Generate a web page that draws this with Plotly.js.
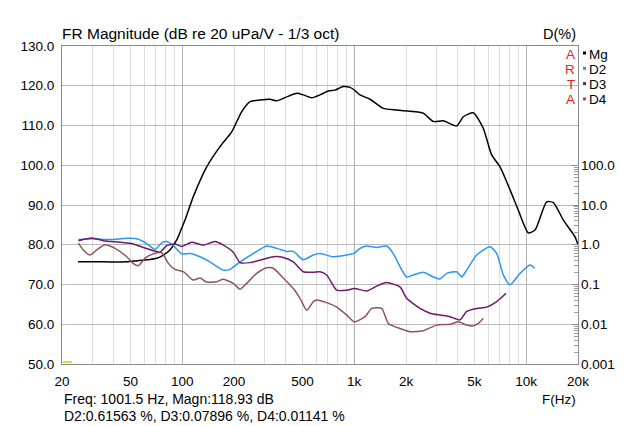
<!DOCTYPE html>
<html>
<head>
<meta charset="utf-8">
<script src="https://cdn.plot.ly/plotly-3.0.1.min.js"></script>
<style>
html,body{margin:0;padding:0;background:#fff;}
#chart{width:640px;height:426px;}
</style>
</head>
<body>
<div id="chart"></div>
<script>
// ---- Data ----
var magFreq = [24.8,35,47.6,55,65,71.1,77.6,84.9,92.9,99.3,103.8,116,138.8,165.8,194,221.9,247.9,283.3,323.9,354.2,404.9,463.2,505.9,566,632.5,706.6,773,863.5,944,1001.5,1080,1236,1477,1767,2205,2519,2883,3297,3944,4308,4923,5625,6296,7043,8055,8995,10286,11250,13150,14380,16440,19210,20000];
var magDb   = [75.7,75.7,75.7,76.0,76.3,76.6,77.4,78.7,81.2,84.2,86.2,92.1,99.6,104.7,108.4,113.5,116.0,116.4,116.6,116.2,117.2,118.1,117.7,117.0,117.7,118.7,118.9,119.8,119.6,118.93,117.7,116.6,114.3,113.9,113.5,113.1,111.0,111.2,109.9,112.2,113.2,109.3,102.6,99.6,93.8,88.7,83.0,83.7,90.8,90.6,86.2,82.0,80.0];

var d2Freq = [24.9,30.4,38,47.6,54.4,62.2,69.5,76,81.2,88.8,99.3,111,126.9,145,173.3,189.6,216.8,259.1,309.9,354.2,405.1,442.5,505.9,578.1,632.5,755.8,904.4,1001.5,1080,1182,1351,1545,1688,1846,2019,2205,2522,2883,3154,3449,3944,4215,4507,5152,6159,6737,7358,8047,9204,10523,11247];
var d2Pct  = [1.35,1.41,1.35,1.45,1.41,1.07,0.76,1.12,1.20,0.95,0.59,0.60,0.50,0.37,0.23,0.24,0.37,0.60,0.93,0.81,0.68,0.68,0.42,0.55,0.60,0.50,0.55,0.6156,0.81,0.93,0.85,0.93,0.60,0.28,0.155,0.174,0.204,0.155,0.138,0.19,0.209,0.155,0.23,0.55,0.89,0.60,0.174,0.098,0.19,0.31,0.257];

var d3Freq = [24.9,29.8,34.8,43.5,51.9,59.4,67.9,74.3,81.2,90.8,99.3,113.6,132.6,155.1,173.3,198.1,216.8,247.9,296.1,338.6,387.1,442.5,505.9,578.1,632.5,691.7,791,904.4,1001.5,1182,1351,1545,1846,2019,2413,2758,3154,3606,4120,4507,5152,5892,6737,7629];
var d3Pct  = [1.26,1.48,1.26,1.15,1.05,0.85,0.71,0.65,0.95,1.05,0.91,1.15,0.98,1.20,0.98,0.65,0.355,0.355,0.43,0.50,0.48,0.37,0.21,0.204,0.21,0.174,0.072,0.072,0.079,0.069,0.091,0.112,0.087,0.045,0.025,0.019,0.017,0.0155,0.0129,0.021,0.025,0.027,0.037,0.060];

var d4Freq = [24.9,26.6,29.1,31.8,35.6,40.7,47.6,51.9,55.5,60.8,67.9,76,83,90.8,101.5,116,126.9,138.8,158.7,173.3,198.1,216.8,237.1,271.2,309.9,338.6,387.1,442.5,484,529.5,578.1,605.1,691.7,791,904.4,1001.5,1155,1264,1445,1578,1846,2110,2522,3018,3606,4029,4507,4923,5264,5627];
var d4Pct  = [1.10,0.74,0.55,0.74,1.0,0.81,0.50,0.34,0.295,0.46,0.59,0.63,0.34,0.24,0.21,0.129,0.145,0.115,0.117,0.135,0.107,0.076,0.107,0.19,0.263,0.257,0.145,0.079,0.045,0.0224,0.037,0.041,0.035,0.027,0.017,0.0114,0.0155,0.025,0.025,0.0105,0.0078,0.0065,0.0069,0.0095,0.010,0.0115,0.0095,0.0091,0.0105,0.0141];

var xTickVals = [20,50,100,200,500,1000,2000,5000,10000,20000];
var xTickText = ['20','50','100','200','500','1k','2k','5k','10k','20k'];
var dTickVals = [0.001,0.01,0.1,1,10,100];
var dTickText = ['0.001','0.01','0.1','1.0','10.0','100.0'];
var seriesNames = ['Mg','D2','D3','D4'];
var cursorFreq = 1001.5;
var cursorText1 = 'Freq: 1001.5 Hz, Magn:118.93 dB';
var cursorText2 = 'D2:0.61563 %, D3:0.07896 %, D4:0.01141 %';

// ---- Styling ----
var colors = ['#000000','#2b96f2','#6a1b6a','#8e5555'];
var FONT = 'Arial, "Liberation Sans", sans-serif';

var minorX = [];
[10,100,1000,10000].forEach(function(d){ for (var k=2;k<=9;k++){ var v=k*d; if(v>20 && v<20000) minorX.push(v);} });
var minorD = [];
[0.001,0.01,0.1,1,10].forEach(function(d){ for (var k=2;k<=9;k++) minorD.push(k*d); });

var traces = [
  {x: magFreq, y: magDb, xaxis:'x', yaxis:'y', mode:'lines', line:{color:colors[0], width:1.5, shape:'spline', smoothing:0.6}, name:seriesNames[0]},
  {x: d2Freq, y: d2Pct, xaxis:'x2', yaxis:'y2', mode:'lines', line:{color:colors[1], width:1.5, shape:'spline', smoothing:0.6}, name:seriesNames[1]},
  {x: d3Freq, y: d3Pct, xaxis:'x2', yaxis:'y2', mode:'lines', line:{color:colors[2], width:1.5, shape:'spline', smoothing:0.6}, name:seriesNames[2]},
  {x: d4Freq, y: d4Pct, xaxis:'x2', yaxis:'y2', mode:'lines', line:{color:colors[3], width:1.5, shape:'spline', smoothing:0.6}, name:seriesNames[3]}
];

var xr = [Math.log10(20), Math.log10(20000)];

var annotations = [];
var shapes = [];
seriesNames.forEach(function(n,i){
  var yy = 1 - (8 + i*15.3)/318;
  annotations.push({xref:'paper', yref:'paper', x:1, y:yy, xanchor:'left', yanchor:'middle', xshift:9, text:n, showarrow:false, font:{family:FONT, size:13.5, color:'#000'}});
  shapes.push({type:'rect', xref:'paper', yref:'paper', x0:1+5/516, x1:1+8/516, y0:yy+(1-1.5)/318, y1:yy+(1+1.5)/318, fillcolor:colors[i], line:{width:0}});
});
['A','R','T','A'].forEach(function(c,i){
  annotations.push({xref:'paper', yref:'paper', x:1, y:1-(8+i*15.3)/318, xanchor:'right', yanchor:'middle', xshift:-1, text:c, showarrow:false, font:{family:FONT, size:13.5, color:'#e8202a'}});
});
annotations.push({xref:'paper', yref:'paper', x:1, y:1+12/318, xanchor:'right', yanchor:'middle', text:'D(%)', showarrow:false, font:{family:FONT, size:14.5, color:'#000'}});
annotations.push({xref:'paper', yref:'paper', x:1, y:-35/318, xanchor:'right', yanchor:'middle', text:'F(Hz)', showarrow:false, font:{family:FONT, size:13.5, color:'#000'}});
annotations.push({xref:'paper', yref:'paper', x:0, y:-35/318, xanchor:'left', yanchor:'middle', text:cursorText1, showarrow:false, font:{family:FONT, size:14, color:'#000'}});
annotations.push({xref:'paper', yref:'paper', x:0, y:-52/318, xanchor:'left', yanchor:'middle', text:cursorText2, showarrow:false, font:{family:FONT, size:14, color:'#000'}});

shapes.push({type:'line', xref:'x', yref:'paper', x0:cursorFreq, x1:cursorFreq, y0:0, y1:1, line:{color:'#e6e67a', width:1.2}, layer:'below'});
shapes.push({type:'line', xref:'paper', yref:'paper', x0:0.002, x1:10/516, y0:2/318, y1:2/318, line:{color:'#d6c800', width:1.5}});

var layout = {
  width:640, height:426,
  margin:{l:62, r:62, t:46, b:62, pad:0},
  paper_bgcolor:'#ffffff', plot_bgcolor:'#ffffff',
  showlegend:false,
  font:{family:FONT, size:13, color:'#000'},
  title:{text:'FR Magnitude (dB re 20 uPa/V - 1/3 oct)', xref:'paper', x:0, xanchor:'left', yref:'container', y:1-34/426, yanchor:'middle', font:{family:FONT, size:15.5, color:'#000'}},
  xaxis:{type:'log', range:xr, tickvals:xTickVals, ticktext:xTickText, showgrid:true, gridcolor:'#dedede', gridwidth:1,
         minor:{tickvals:minorX, showgrid:true, gridcolor:'#dedede', gridwidth:1, ticks:''},
         ticks:'', showline:true, linecolor:'#8a8a8a', linewidth:1, mirror:true, zeroline:false,
         tickfont:{family:FONT, size:13.5, color:'#000'}, ticklabelstandoff:5, fixedrange:true},
  xaxis2:{type:'log', range:xr, overlaying:'x', anchor:'y2', tickvals:[100,1000,10000], showticklabels:false, ticks:'',
          showgrid:true, gridcolor:'#b4b4b4', gridwidth:1, showline:false, zeroline:false},
  yaxis:{range:[50,130], tickvals:[50,60,70,80,90,100,110,120,130], tickformat:'.1f', showgrid:true, gridcolor:'#b8b8b8', gridwidth:1,
         ticks:'', showline:true, linecolor:'#8a8a8a', linewidth:1, mirror:true, zeroline:false,
         tickfont:{family:FONT, size:13.5, color:'#000'}, ticklabelstandoff:4},
  yaxis2:{type:'log', range:[-3,5], overlaying:'y', anchor:'x2', side:'right', tickvals:dTickVals, ticktext:dTickText,
          showgrid:false, ticks:'inside', ticklen:6, tickcolor:'#8a8a8a',
          minor:{tickvals:minorD, ticks:'inside', ticklen:4, tickcolor:'#9a9a9a', showgrid:false},
          showline:false, zeroline:false, tickfont:{family:FONT, size:13.5, color:'#000'}, ticklabelstandoff:2},
  annotations:annotations,
  shapes:shapes
};

Plotly.newPlot('chart', traces, layout, {staticPlot:true, displayModeBar:false});
</script>
</body>
</html>
